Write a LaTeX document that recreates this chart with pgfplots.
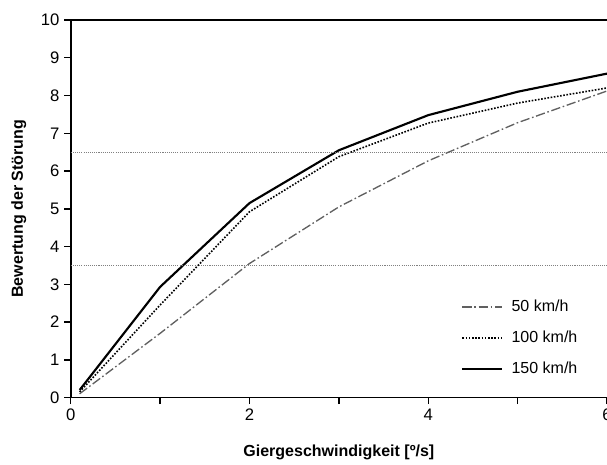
\documentclass[border=0pt]{standalone}
\usepackage{pgfplots}
\pgfplotsset{compat=1.18}
\usepackage{fontspec}
\setmainfont{Liberation Sans}
\begin{document}
\begin{tikzpicture}
\begin{axis}[
  name=ax,
  scale only axis,
  width=402pt, height=283pt,
  xmin=0, xmax=6, ymin=0, ymax=10,
  axis x line*=bottom, axis y line*=left,
  axis line style={line width=1.3pt, -},
  xtick={0,2,4,6}, minor xtick={1,3,5},
  ytick={0,1,...,10},
  tick align=outside,
  major tick length=5pt, minor tick length=5pt,
  every tick/.style={black, line width=1.1pt},
  minor tick style={black, line width=1.1pt},
  tick label style={font=\fontsize{12.5}{14}\selectfont},
  /pgf/number format/assume math mode=true,
  xlabel={\textbf{Giergeschwindigkeit [º/s]}},
  ylabel={\textbf{Bewertung der Störung}},
  label style={font=\fontsize{12}{14}\selectfont},
  xlabel style={at={(rel axis cs:0.5,0)}, anchor=center, yshift=-41pt},
  ylabel style={at={(rel axis cs:0,0.5)}, anchor=center, yshift=39pt},
  legend style={draw=none, fill=none, inner sep=0pt, at={(rel axis cs:0.728,0.05)}, anchor=south west,
    font=\fontsize{12}{14}\selectfont, row sep=9pt, column sep=4pt},
  legend cell align=left,
  legend image code/.code={\draw[#1] (0pt,0pt) -- (30pt,0pt);},
  clip=false,
]
\addplot[gray!75!black, line width=1pt, dash pattern=on 7pt off 2pt on 1.2pt off 2pt]
  coordinates {(0.1,0.1) (1,1.70) (2,3.55) (3,5.05) (4,6.27) (5,7.28) (6,8.12)};
\addlegendentry{50 km/h}
\addplot[black, line width=1.2pt, dash pattern=on 1.2pt off 1.2pt]
  coordinates {(0.1,0.15) (1,2.45) (2,4.92) (3,6.38) (4,7.27) (5,7.80) (6,8.20)};
\addlegendentry{100 km/h}
\addplot[black, line width=1.6pt]
  coordinates {(0.1,0.2) (1,2.93) (2,5.15) (3,6.55) (4,7.48) (5,8.10) (6,8.58)};
\addlegendentry{150 km/h}
\addplot[gray, line width=0.6pt, dash pattern=on 0.8pt off 0.8pt, forget plot]
  coordinates {(0,6.5) (6,6.5)};
\addplot[gray, line width=0.6pt, dash pattern=on 0.8pt off 0.8pt, forget plot]
  coordinates {(0,3.5) (6,3.5)};
\draw[line width=1.3pt] (rel axis cs:0,1) -- (rel axis cs:1,1);
\end{axis}
\pgfresetboundingbox
\path[use as bounding box] ([shift={(-53pt,-50pt)}]ax.south west) rectangle ([shift={(0pt,15pt)}]ax.north east);
\end{tikzpicture}
\end{document}
